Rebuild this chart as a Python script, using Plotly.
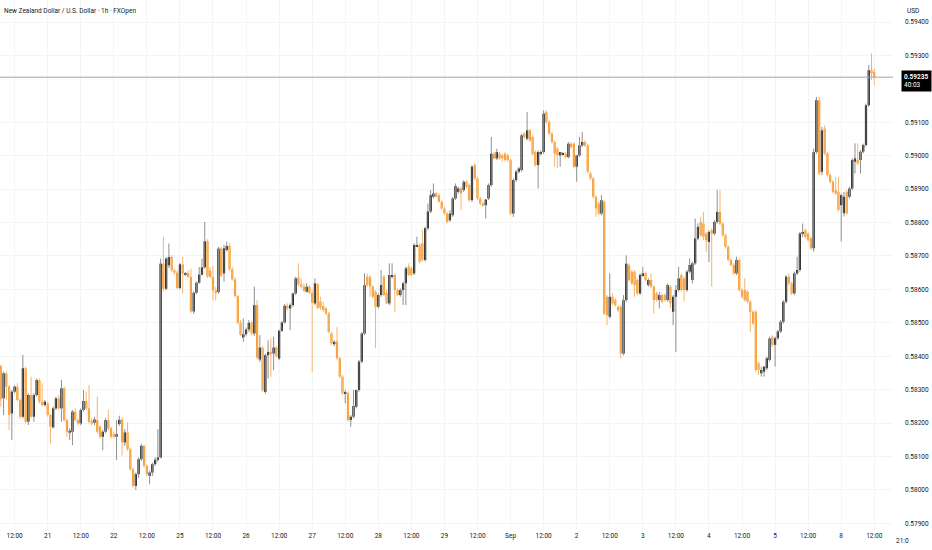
import plotly.graph_objects as go

# NZD/USD hourly candles (FXOpen), 20 Aug 07:00 -> 8 Sep 11:00
open_ = [
    0.58371, 0.58274, 0.58349, 0.58309, 0.58229, 0.58294, 0.58309, 0.58269, 0.58219, 0.58364,
    0.58204, 0.58284, 0.58219, 0.58284, 0.58329, 0.58264, 0.58254, 0.58259, 0.58224, 0.58187,
    0.58244, 0.58274, 0.58244, 0.58304, 0.58209, 0.58171, 0.58174, 0.58234, 0.58209, 0.58199,
    0.58239, 0.58266, 0.58244, 0.58206, 0.58201, 0.58209, 0.58189, 0.58159, 0.58174, 0.58209,
    0.58184, 0.58167, 0.58159, 0.58197, 0.58210, 0.58142, 0.58172, 0.58122, 0.58062, 0.58012,
    0.58047, 0.58092, 0.58132, 0.58072, 0.58042, 0.58052, 0.58077, 0.58090, 0.58097, 0.58677,
    0.58602, 0.58672, 0.58697, 0.58657, 0.58650, 0.58604, 0.58675, 0.58644, 0.58648, 0.58637,
    0.58534, 0.58590, 0.58620, 0.58644, 0.58666, 0.58744, 0.58657, 0.58637, 0.58597, 0.58592,
    0.58722, 0.58648, 0.58718, 0.58730, 0.58660, 0.58630, 0.58580, 0.58500, 0.58456, 0.58466,
    0.58480, 0.58500, 0.58468, 0.58553, 0.58390, 0.58426, 0.58293, 0.58403, 0.58413, 0.58408,
    0.58426, 0.58393, 0.58476, 0.58501, 0.58551, 0.58543, 0.58553, 0.58588, 0.58636, 0.58615,
    0.58608, 0.58593, 0.58608, 0.58590, 0.58558, 0.58616, 0.58563, 0.58550, 0.58543, 0.58528,
    0.58468, 0.58436, 0.58444, 0.58394, 0.58339, 0.58287, 0.58289, 0.58209, 0.58219, 0.58249,
    0.58299, 0.58384, 0.58468, 0.58638, 0.58636, 0.58608, 0.58593, 0.58548, 0.58583, 0.58638,
    0.58590, 0.58558, 0.58638, 0.58643, 0.58598, 0.58583, 0.58598, 0.58618, 0.58668, 0.58663,
    0.58648, 0.58728, 0.58733, 0.58738, 0.58688, 0.58783, 0.58833, 0.58877, 0.58887, 0.58882,
    0.58862, 0.58842, 0.58827, 0.58807, 0.58822, 0.58872, 0.58892, 0.58902, 0.58897, 0.58922,
    0.58912, 0.58867, 0.58972, 0.58932, 0.58872, 0.58857, 0.58852, 0.58872, 0.58912, 0.59006,
    0.58992, 0.59006, 0.59001, 0.59006, 0.59001, 0.58987, 0.58827, 0.58927, 0.58952, 0.58957,
    0.59066, 0.59051, 0.59076, 0.59056, 0.59011, 0.58972, 0.59006, 0.59011, 0.59131, 0.59101,
    0.59066, 0.59041, 0.59021, 0.59001, 0.59004, 0.59006, 0.58996, 0.59036, 0.59036, 0.58967,
    0.59001, 0.59031, 0.59041, 0.59031, 0.58947, 0.58932, 0.58877, 0.58857, 0.58827, 0.58862,
    0.58578, 0.58518, 0.58578, 0.58568, 0.58548, 0.58548, 0.58408, 0.58568, 0.58672, 0.58653,
    0.58653, 0.58628, 0.58588, 0.58643, 0.58648, 0.58613, 0.58628, 0.58608, 0.58588, 0.58568,
    0.58583, 0.58583, 0.58568, 0.58608, 0.58533, 0.58578, 0.58598, 0.58643, 0.58633, 0.58598,
    0.58653, 0.58628, 0.58678, 0.58752, 0.58802, 0.58797, 0.58767, 0.58742, 0.58777, 0.58767,
    0.58802, 0.58832, 0.58797, 0.58762, 0.58727, 0.58688, 0.58673, 0.58648, 0.58688, 0.58598,
    0.58598, 0.58593, 0.58563, 0.58533, 0.58533, 0.58379, 0.58349, 0.58354, 0.58364, 0.58389,
    0.58458, 0.58434, 0.58454, 0.58474, 0.58503, 0.58563, 0.58638, 0.58618, 0.58588, 0.58648,
    0.58658, 0.58767, 0.58777, 0.58767, 0.58753, 0.58723, 0.59011, 0.59166, 0.58952, 0.59081,
    0.59007, 0.58942, 0.58922, 0.58897, 0.58892, 0.58852, 0.58828, 0.58892, 0.58877, 0.58902,
    0.58982, 0.58987, 0.58987, 0.59012, 0.59032, 0.59151, 0.59256, 0.59251,
]
high = [
    0.58374, 0.58354, 0.58354, 0.58314, 0.58299, 0.58314, 0.58319, 0.58274, 0.58404, 0.58369,
    0.58289, 0.58339, 0.58289, 0.58334, 0.58334, 0.58319, 0.58269, 0.58264, 0.58229, 0.58249,
    0.58279, 0.58284, 0.58329, 0.58309, 0.58214, 0.58184, 0.58239, 0.58244, 0.58214, 0.58244,
    0.58299, 0.58294, 0.58314, 0.58214, 0.58219, 0.58279, 0.58194, 0.58179, 0.58214, 0.58239,
    0.58189, 0.58174, 0.58209, 0.58222, 0.58217, 0.58182, 0.58202, 0.58127, 0.58067, 0.58052,
    0.58097, 0.58137, 0.58134, 0.58077, 0.58057, 0.58082, 0.58097, 0.58182, 0.58692, 0.58757,
    0.58697, 0.58737, 0.58702, 0.58662, 0.58657, 0.58679, 0.58697, 0.58652, 0.58657, 0.58662,
    0.58594, 0.58624, 0.58667, 0.58692, 0.58802, 0.58750, 0.58667, 0.58672, 0.58607, 0.58727,
    0.58727, 0.58733, 0.58743, 0.58738, 0.58668, 0.58636, 0.58583, 0.58508, 0.58513, 0.58486,
    0.58508, 0.58505, 0.58608, 0.58568, 0.58463, 0.58430, 0.58408, 0.58448, 0.58453, 0.58458,
    0.58430, 0.58480, 0.58505, 0.58556, 0.58558, 0.58558, 0.58590, 0.58638, 0.58678, 0.58633,
    0.58618, 0.58618, 0.58613, 0.58598, 0.58633, 0.58620, 0.58578, 0.58563, 0.58548, 0.58533,
    0.58473, 0.58448, 0.58488, 0.58399, 0.58344, 0.58299, 0.58294, 0.58224, 0.58299, 0.58299,
    0.58389, 0.58472, 0.58648, 0.58648, 0.58643, 0.58613, 0.58598, 0.58588, 0.58658, 0.58643,
    0.58598, 0.58678, 0.58678, 0.58648, 0.58603, 0.58603, 0.58623, 0.58668, 0.58678, 0.58668,
    0.58738, 0.58758, 0.58738, 0.58778, 0.58788, 0.58857, 0.58897, 0.58917, 0.58892, 0.58887,
    0.58867, 0.58847, 0.58832, 0.58837, 0.58877, 0.58917, 0.58907, 0.58907, 0.58927, 0.58927,
    0.58917, 0.58972, 0.58977, 0.58937, 0.58877, 0.58862, 0.58867, 0.58917, 0.59056, 0.59011,
    0.59021, 0.59011, 0.59006, 0.59011, 0.59006, 0.58992, 0.58932, 0.58957, 0.58967, 0.59066,
    0.59071, 0.59131, 0.59081, 0.59061, 0.59016, 0.59016, 0.59016, 0.59136, 0.59136, 0.59106,
    0.59071, 0.59046, 0.59026, 0.59011, 0.59011, 0.59011, 0.59041, 0.59041, 0.59041, 0.59001,
    0.59056, 0.59071, 0.59046, 0.59036, 0.58952, 0.58937, 0.58882, 0.58862, 0.58882, 0.58867,
    0.58583, 0.58648, 0.58588, 0.58573, 0.58553, 0.58553, 0.58583, 0.58702, 0.58677, 0.58658,
    0.58658, 0.58633, 0.58648, 0.58667, 0.58653, 0.58633, 0.58648, 0.58613, 0.58593, 0.58593,
    0.58588, 0.58588, 0.58618, 0.58613, 0.58583, 0.58613, 0.58668, 0.58648, 0.58638, 0.58658,
    0.58693, 0.58683, 0.58812, 0.58797, 0.58817, 0.58832, 0.58772, 0.58777, 0.58782, 0.58807,
    0.58897, 0.58897, 0.58802, 0.58767, 0.58732, 0.58693, 0.58678, 0.58698, 0.58693, 0.58603,
    0.58633, 0.58598, 0.58568, 0.58538, 0.58538, 0.58384, 0.58369, 0.58369, 0.58399, 0.58458,
    0.58463, 0.58459, 0.58479, 0.58508, 0.58568, 0.58643, 0.58648, 0.58623, 0.58653, 0.58698,
    0.58772, 0.58797, 0.58782, 0.58772, 0.58758, 0.59021, 0.59176, 0.59176, 0.59086, 0.59091,
    0.59012, 0.58947, 0.58927, 0.58937, 0.58937, 0.58887, 0.58892, 0.58897, 0.58907, 0.58992,
    0.59037, 0.59037, 0.59017, 0.59036, 0.59156, 0.59271, 0.59306, 0.59261,
]
low = [
    0.58249, 0.58224, 0.58269, 0.58179, 0.58149, 0.58289, 0.58264, 0.58214, 0.58214, 0.58199,
    0.58194, 0.58214, 0.58204, 0.58279, 0.58259, 0.58249, 0.58249, 0.58219, 0.58139, 0.58184,
    0.58239, 0.58239, 0.58204, 0.58204, 0.58159, 0.58149, 0.58134, 0.58204, 0.58194, 0.58194,
    0.58234, 0.58239, 0.58199, 0.58194, 0.58194, 0.58169, 0.58154, 0.58119, 0.58169, 0.58179,
    0.58154, 0.58154, 0.58089, 0.58192, 0.58102, 0.58132, 0.58117, 0.58057, 0.58007, 0.58000,
    0.58037, 0.58087, 0.58067, 0.58042, 0.58017, 0.58042, 0.58072, 0.58084, 0.58094, 0.58594,
    0.58597, 0.58664, 0.58652, 0.58644, 0.58600, 0.58600, 0.58587, 0.58640, 0.58634, 0.58530,
    0.58527, 0.58586, 0.58617, 0.58642, 0.58662, 0.58634, 0.58634, 0.58567, 0.58567, 0.58587,
    0.58637, 0.58623, 0.58713, 0.58656, 0.58626, 0.58576, 0.58496, 0.58460, 0.58443, 0.58460,
    0.58473, 0.58463, 0.58460, 0.58390, 0.58383, 0.58293, 0.58288, 0.58333, 0.58338, 0.58358,
    0.58396, 0.58388, 0.58473, 0.58498, 0.58538, 0.58478, 0.58548, 0.58583, 0.58610, 0.58603,
    0.58593, 0.58590, 0.58586, 0.58353, 0.58553, 0.58540, 0.58538, 0.58533, 0.58523, 0.58468,
    0.58433, 0.58430, 0.58389, 0.58334, 0.58284, 0.58259, 0.58204, 0.58189, 0.58214, 0.58244,
    0.58294, 0.58379, 0.58463, 0.58608, 0.58578, 0.58573, 0.58424, 0.58543, 0.58578, 0.58580,
    0.58556, 0.58553, 0.58633, 0.58533, 0.58580, 0.58578, 0.58553, 0.58553, 0.58640, 0.58640,
    0.58643, 0.58726, 0.58678, 0.58683, 0.58683, 0.58778, 0.58828, 0.58872, 0.58875, 0.58860,
    0.58839, 0.58822, 0.58797, 0.58802, 0.58817, 0.58867, 0.58887, 0.58837, 0.58892, 0.58902,
    0.58862, 0.58862, 0.58927, 0.58867, 0.58852, 0.58849, 0.58812, 0.58867, 0.58907, 0.58989,
    0.58987, 0.58987, 0.58982, 0.58982, 0.58982, 0.58822, 0.58817, 0.58922, 0.58947, 0.58952,
    0.59051, 0.59046, 0.59041, 0.59001, 0.58967, 0.58902, 0.59001, 0.59006, 0.59096, 0.59061,
    0.59036, 0.58967, 0.58962, 0.58967, 0.59001, 0.58992, 0.58992, 0.59021, 0.58962, 0.58922,
    0.58996, 0.59026, 0.59026, 0.58947, 0.58927, 0.58872, 0.58817, 0.58822, 0.58822, 0.58523,
    0.58493, 0.58513, 0.58553, 0.58548, 0.58533, 0.58393, 0.58403, 0.58563, 0.58623, 0.58613,
    0.58578, 0.58583, 0.58583, 0.58638, 0.58623, 0.58608, 0.58603, 0.58528, 0.58563, 0.58543,
    0.58558, 0.58563, 0.58563, 0.58543, 0.58493, 0.58413, 0.58593, 0.58593, 0.58563, 0.58593,
    0.58648, 0.58618, 0.58673, 0.58747, 0.58757, 0.58747, 0.58712, 0.58682, 0.58608, 0.58762,
    0.58797, 0.58792, 0.58757, 0.58722, 0.58683, 0.58668, 0.58643, 0.58643, 0.58593, 0.58573,
    0.58563, 0.58558, 0.58473, 0.58493, 0.58354, 0.58344, 0.58339, 0.58339, 0.58359, 0.58384,
    0.58429, 0.58369, 0.58449, 0.58469, 0.58498, 0.58558, 0.58613, 0.58583, 0.58583, 0.58643,
    0.58653, 0.58757, 0.58752, 0.58743, 0.58718, 0.58713, 0.59006, 0.58942, 0.58942, 0.59001,
    0.58937, 0.58917, 0.58887, 0.58882, 0.58833, 0.58743, 0.58818, 0.58823, 0.58872, 0.58897,
    0.58947, 0.58972, 0.58947, 0.59007, 0.59027, 0.59146, 0.59226, 0.59211,
]
close = [
    0.58271, 0.58349, 0.58309, 0.58224, 0.58294, 0.58309, 0.58269, 0.58219, 0.58364, 0.58204,
    0.58284, 0.58219, 0.58284, 0.58329, 0.58264, 0.58254, 0.58264, 0.58224, 0.58189, 0.58244,
    0.58274, 0.58244, 0.58304, 0.58209, 0.58174, 0.58177, 0.58234, 0.58209, 0.58199, 0.58239,
    0.58266, 0.58244, 0.58204, 0.58199, 0.58211, 0.58174, 0.58159, 0.58174, 0.58209, 0.58184,
    0.58159, 0.58159, 0.58167, 0.58210, 0.58142, 0.58172, 0.58122, 0.58062, 0.58012, 0.58047,
    0.58092, 0.58132, 0.58072, 0.58047, 0.58052, 0.58077, 0.58090, 0.58097, 0.58677, 0.58602,
    0.58692, 0.58697, 0.58657, 0.58650, 0.58604, 0.58675, 0.58647, 0.58648, 0.58637, 0.58534,
    0.58590, 0.58620, 0.58644, 0.58666, 0.58744, 0.58639, 0.58637, 0.58597, 0.58592, 0.58722,
    0.58642, 0.58723, 0.58730, 0.58660, 0.58630, 0.58580, 0.58500, 0.58464, 0.58466, 0.58480,
    0.58500, 0.58468, 0.58553, 0.58396, 0.58426, 0.58298, 0.58403, 0.58413, 0.58408, 0.58426,
    0.58400, 0.58476, 0.58501, 0.58551, 0.58543, 0.58553, 0.58588, 0.58633, 0.58615, 0.58608,
    0.58596, 0.58608, 0.58590, 0.58560, 0.58618, 0.58545, 0.58545, 0.58538, 0.58528, 0.58473,
    0.58438, 0.58443, 0.58394, 0.58339, 0.58289, 0.58293, 0.58209, 0.58219, 0.58251, 0.58299,
    0.58384, 0.58468, 0.58613, 0.58613, 0.58608, 0.58578, 0.58548, 0.58583, 0.58613, 0.58583,
    0.58558, 0.58643, 0.58643, 0.58598, 0.58583, 0.58598, 0.58618, 0.58663, 0.58643, 0.58643,
    0.58733, 0.58733, 0.58683, 0.58688, 0.58783, 0.58833, 0.58882, 0.58887, 0.58877, 0.58862,
    0.58842, 0.58827, 0.58802, 0.58827, 0.58872, 0.58909, 0.58902, 0.58887, 0.58922, 0.58907,
    0.58867, 0.58967, 0.58932, 0.58872, 0.58857, 0.58852, 0.58869, 0.58912, 0.59006, 0.58992,
    0.59011, 0.58992, 0.58992, 0.58987, 0.58987, 0.58827, 0.58927, 0.58952, 0.58962, 0.59061,
    0.59056, 0.59076, 0.59046, 0.59006, 0.58972, 0.59011, 0.59011, 0.59126, 0.59101, 0.59066,
    0.59041, 0.59006, 0.59001, 0.59011, 0.59008, 0.58996, 0.59036, 0.59026, 0.58967, 0.59001,
    0.59031, 0.59041, 0.59031, 0.58952, 0.58932, 0.58877, 0.58842, 0.58827, 0.58867, 0.58528,
    0.58523, 0.58578, 0.58558, 0.58553, 0.58538, 0.58408, 0.58568, 0.58677, 0.58628, 0.58618,
    0.58613, 0.58588, 0.58643, 0.58648, 0.58628, 0.58628, 0.58608, 0.58568, 0.58568, 0.58583,
    0.58563, 0.58568, 0.58613, 0.58558, 0.58578, 0.58598, 0.58633, 0.58598, 0.58598, 0.58653,
    0.58673, 0.58678, 0.58752, 0.58787, 0.58762, 0.58757, 0.58747, 0.58772, 0.58767, 0.58802,
    0.58832, 0.58797, 0.58762, 0.58727, 0.58688, 0.58673, 0.58648, 0.58688, 0.58598, 0.58578,
    0.58568, 0.58563, 0.58533, 0.58498, 0.58359, 0.58359, 0.58359, 0.58369, 0.58394, 0.58453,
    0.58434, 0.58454, 0.58474, 0.58503, 0.58563, 0.58638, 0.58618, 0.58588, 0.58648, 0.58658,
    0.58767, 0.58772, 0.58757, 0.58747, 0.58723, 0.59011, 0.59166, 0.58947, 0.59076, 0.59007,
    0.58942, 0.58922, 0.58892, 0.58887, 0.58838, 0.58882, 0.58877, 0.58828, 0.58902, 0.58987,
    0.58992, 0.58977, 0.59012, 0.59032, 0.59151, 0.59256, 0.59246, 0.59235,
]
assert len(open_) == len(high) == len(low) == len(close)

# bottom axis labels, one every 12 bars starting with the 12:00 bar of 20 Aug
time_labels = [
    "12:00", "21", "12:00", "22", "12:00", "25", "12:00", "26", "12:00", "27",
    "12:00", "28", "12:00", "29", "12:00", "Sep", "12:00", "2", "12:00", "3",
    "12:00", "4", "12:00", "5", "12:00", "8", "12:00",
]
first_label_bar = 5
# 0.592 is hidden behind the last-price tag
price_ticks = [0.579, 0.580, 0.581, 0.582, 0.583, 0.584, 0.585, 0.586,
               0.587, 0.588, 0.589, 0.590, 0.591, 0.593, 0.594]
last_price = 0.59235
countdown = "40:03"
title = "New Zealand Dollar / U.S. Dollar · 1h · FXOpen"

UP = "#000000"
DOWN = "#F7931A"
UP_WICK = "#8f8f8f"
DOWN_WICK = "#F5B56E"
FONT = "Roboto, sans-serif"
TEXT = "#131722"

bars = list(range(len(close)))

# wicks as broken line segments, one trace per direction
wick_x = {"up": [], "down": []}
wick_y = {"up": [], "down": []}
for i, o, h, l, c in zip(bars, open_, high, low, close):
    key = "up" if c >= o else "down"
    wick_x[key] += [i, i, None]
    wick_y[key] += [l, h, None]

body_base = [min(o, c) for o, c in zip(open_, close)]
body_size = [max(abs(c - o), 0.00001) for o, c in zip(open_, close)]
body_color = [UP if c >= o else DOWN for o, c in zip(open_, close)]

fig = go.Figure()
fig.add_trace(go.Scatter(x=wick_x["up"], y=wick_y["up"], mode="lines",
                         line=dict(color=UP_WICK, width=1), hoverinfo="skip"))
fig.add_trace(go.Scatter(x=wick_x["down"], y=wick_y["down"], mode="lines",
                         line=dict(color=DOWN_WICK, width=1), hoverinfo="skip"))
fig.add_trace(go.Bar(x=bars, y=body_size, base=body_base, width=0.8,
                     marker=dict(color=body_color, line=dict(width=0)),
                     hoverinfo="skip"))

fig.add_hline(y=last_price, line=dict(color="#a3a6ae", width=1))

fig.update_layout(
    width=932, height=550,
    margin=dict(l=0, r=39, t=0, b=20),
    paper_bgcolor="white", plot_bgcolor="white",
    showlegend=False,
    font=dict(family=FONT, size=6.5, color=TEXT),
    xaxis=dict(
        range=[-0.3, 323.8],
        tickvals=[first_label_bar + 12 * k for k in range(len(time_labels))],
        ticktext=time_labels,
        showgrid=True, gridcolor="#f4f4f4", gridwidth=1,
        zeroline=False, showline=False, ticks="",
        tickfont=dict(family=FONT, size=6.5, color=TEXT),
        fixedrange=True,
    ),
    yaxis=dict(
        side="right",
        range=[0.57880, 0.59466],
        tickvals=price_ticks,
        ticktext=[f"{p:.5f}" for p in price_ticks],
        showgrid=True, gridcolor="#f4f4f4", gridwidth=1,
        zeroline=False, showline=False, ticks="",
        ticklabelstandoff=11,
        tickfont=dict(family=FONT, size=6.5, color=TEXT),
        fixedrange=True,
    ),
)

fig.add_annotation(text=title, xref="paper", yref="paper", x=0, y=1,
                   xanchor="left", yanchor="top", xshift=2, yshift=-5,
                   showarrow=False, font=dict(family=FONT, size=6.5, color=TEXT))
fig.add_annotation(text="USD", xref="paper", yref="paper", x=1, y=1,
                   xanchor="left", yanchor="top", xshift=12, yshift=-5,
                   showarrow=False, font=dict(family=FONT, size=6.5, color=TEXT))
fig.add_annotation(text=f"<b>{last_price:.5f}</b><br>{countdown}",
                   xref="paper", yref="y", x=1, y=last_price,
                   xanchor="left", yanchor="top", xshift=8, yshift=7,
                   showarrow=False, align="left", bgcolor="#000000",
                   borderpad=2, font=dict(family=FONT, size=6.5, color="#ffffff"))
fig.add_annotation(text="21:0", xref="paper", yref="paper", x=1, y=0,
                   xanchor="left", yanchor="top", xshift=1, yshift=-5,
                   showarrow=False, font=dict(family=FONT, size=6.5, color=TEXT))

# drop the default 8px page margin so the chart sits at the window's corner
fig.write_html("out.html", config={"displayModeBar": False},
               post_script="document.body.style.margin='0';"
                           "document.body.style.overflow='hidden';")
